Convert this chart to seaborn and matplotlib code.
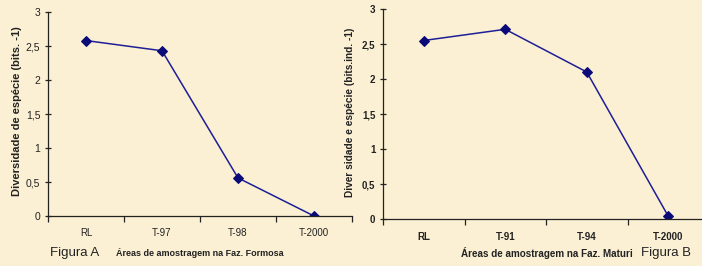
import matplotlib
matplotlib.use("Agg")
import matplotlib.pyplot as plt
import seaborn as sns
import pandas as pd
from matplotlib.ticker import FixedLocator, NullFormatter

sns.set_theme(style="ticks")
plt.rcParams['font.family'] = ['Liberation Sans', 'DejaVu Sans']

cats_a = ["RL", "T-97", "T-98", "T-2000"]
vals_a = [2.58, 2.43, 0.56, 0.0]
cats_b = ["RL", "T-91", "T-94", "T-2000"]
vals_b = [2.55, 2.71, 2.10, 0.04]
yticks = [0, 0.5, 1, 1.5, 2, 2.5, 3]
ytick_labels = ["0", "0,5", "1", "1,5", "2", "2,5", "3"]

bg = "#FBF0D3"
line_col = "#1E1E96"
mk_col = "#0A0A78"
fam_a = ['Liberation Sans']

fig = plt.figure(figsize=(7.02, 2.66), dpi=100, facecolor=bg)
axA = fig.add_axes([48/702, 1-216/266, 304/702, 204/266])
axB = fig.add_axes([383/702, 1-219/266, 326/702, 210/266])

def draw(ax, cats, vals, bold):
    df = pd.DataFrame({"x": range(len(cats)), "y": vals})
    sns.lineplot(data=df, x="x", y="y", ax=ax, color=line_col, lw=1.1,
                 marker="D", markersize=5, markerfacecolor=mk_col,
                 markeredgecolor=mk_col)
    ax.set_facecolor("none")
    ax.set_xlim(-0.5, len(cats) - 0.5)
    ax.set_ylim(0, 3)
    ax.set_xlabel("")
    ax.set_ylabel("")
    for s in ["top", "right"]:
        ax.spines[s].set_visible(False)
    for s in ["left", "bottom"]:
        ax.spines[s].set_color("#222222")
        ax.spines[s].set_linewidth(0.9)
    ax.xaxis.set_major_locator(FixedLocator([i - 0.5 for i in range(len(cats) + 1)]))
    ax.xaxis.set_major_formatter(NullFormatter())
    ax.xaxis.set_minor_locator(FixedLocator(list(range(len(cats)))))
    ax.set_xticklabels(cats, minor=True)
    ax.tick_params(axis="x", which="major", direction="out", length=4, width=0.9, color="#222222")
    ax.tick_params(axis="x", which="minor", length=0, pad=9)
    ax.set_yticks(yticks)
    ax.set_yticklabels(ytick_labels)
    ax.tick_params(axis="y", direction="inout", length=5, width=0.9, color="#222222", pad=3)
    w = "bold" if bold else "normal"
    for t in ax.get_xticklabels(minor=True):
        t.set_fontsize(7); t.set_fontweight(w); t.set_family(fam_a); t.set_color("#222222")
    for t in ax.get_yticklabels():
        t.set_fontsize(7.5 if not bold else 7); t.set_fontweight(w); t.set_family(fam_a); t.set_color("#222222")

draw(axA, cats_a, vals_a, False)
draw(axB, cats_b, vals_b, True)

fig.text(17/702, 1-111/266, "Diversidade de espécie (bits. -1)",
         rotation=90, ha="center", va="center", fontsize=8, fontweight="bold", color="#222222")
fig.text(350/702, 1-112/266, "Diver sidade e espécie (bits.ind. -1)",
         rotation=90, ha="center", va="center", fontsize=7.3, fontweight="bold", color="#222222")

fig.text(75/702, 1-253/266, "Figura A", ha="center", va="center", fontsize=9.5, color="#222222")
fig.text(200/702, 1-253/266, "Áreas de amostragem na Faz. Formosa", ha="center", va="center",
         fontsize=6.5, fontweight="bold", color="#222222")
fig.text(547/702, 1-253/266, "Áreas de amostragem na Faz. Maturi", ha="center", va="center",
         fontsize=7.1, fontweight="bold", color="#222222")
fig.text(666/702, 1-253/266, "Figura B", ha="center", va="center", fontsize=9.5, color="#222222")

fig.savefig("out.png", dpi=100, facecolor=bg)
